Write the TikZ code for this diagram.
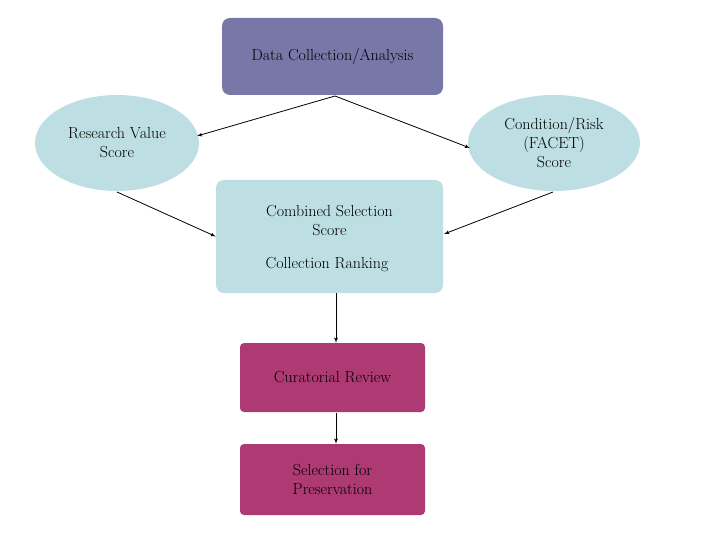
\documentclass[tikz,border=0pt]{standalone}
\usepackage{tikz}
\usetikzlibrary{arrows,shapes}
\definecolor{dataCol}{RGB}{120,120,168}
\definecolor{scoreCol}{RGB}{189,223,227}
\definecolor{reviewCol}{RGB}{173,58,115}
\begin{document}
\begin{tikzpicture}[x=1pt,y=-1pt,>=latex',
  txt/.style={font=\fontsize{16}{19}\selectfont,align=center,text=black},
  box/.style={txt,rectangle,rounded corners=8pt,inner sep=0pt},
  oval/.style={txt,ellipse,fill=scoreCol,inner sep=0pt},
  link/.style={->,thick},
  ]
\useasboundingbox (0,0) rectangle (720,540);
%%
  \node (data) [box,fill=dataCol,minimum width=221,minimum height=77] at (332.5,56.5) {Data Collection/Analysis};
  \node (research) [oval,minimum width=164,minimum height=96] at (117,143) {Research Value\\Score};
  \node (facet) [oval,minimum width=172,minimum height=96] at (554,143) {Condition/Risk\\(FACET)\\Score};
  \node (combined) [box,fill=scoreCol,minimum width=227,minimum height=113] at (329.5,236.5) {};
  \node (combtext) [txt] at (329.5,221) {Combined Selection\\Score};
  \node (ranking) [txt] at (327,265) {Collection Ranking};
  \node (review) [box,fill=reviewCol,rounded corners=4pt,minimum width=185,minimum height=69] at (332.5,377.5) {Curatorial Review};
  \node (select) [box,fill=reviewCol,rounded corners=4pt,minimum width=185,minimum height=71] at (332.5,479.5) {Selection for\\Preservation};
  \coordinate (split) at (335,96);
  \draw [link] (split) -- (197,136);
  \draw [link] (split) -- (470,148);
  \draw [link] (117,192) -- (combined.west);
  \draw [link] (553,192) -- (444,234);
  \draw [link] (336,293) -- (review.north -| 336,0);
  \draw [link] (336,413) -- (select.north -| 336,0);
%
\end{tikzpicture}
\end{document}
